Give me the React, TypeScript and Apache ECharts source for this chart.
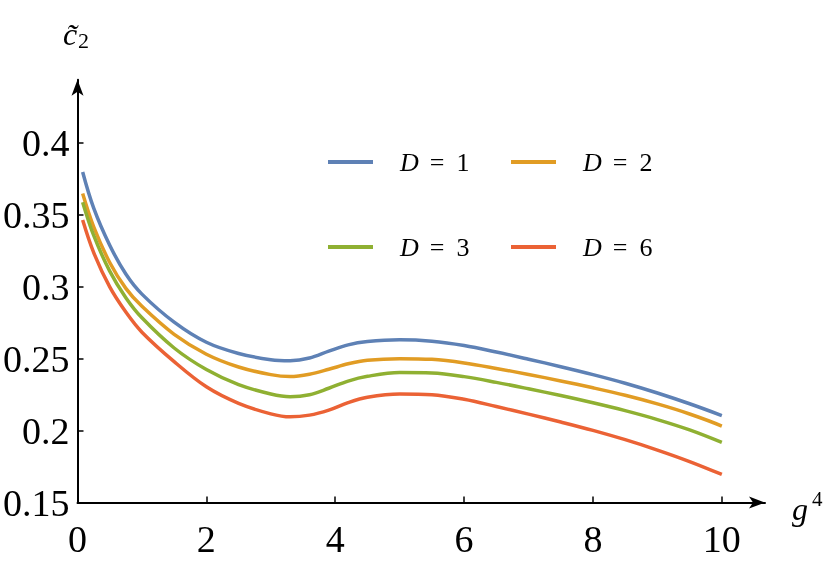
import React, { useEffect, useRef } from 'react';
import * as echarts from 'echarts';

// g^4 sample positions
const gValues = [0.08, 0.25, 0.5, 0.75, 1.0, 1.5, 2.0, 2.5, 3.0, 3.3, 3.6, 3.9, 4.2, 4.5, 5.0, 5.5, 6.0, 6.5, 7.0, 7.5, 8.0, 8.5, 9.0, 9.5, 10.0];
const cD1 = [0.380, 0.355, 0.329, 0.309, 0.295, 0.2755, 0.2615, 0.2537, 0.2494, 0.2487, 0.2505, 0.2553, 0.2597, 0.2620, 0.2632, 0.2622, 0.2592, 0.2547, 0.2497, 0.2445, 0.2390, 0.2330, 0.2262, 0.2187, 0.2105];
const cD2 = [0.365, 0.342, 0.317, 0.299, 0.2865, 0.2670, 0.2532, 0.2443, 0.2390, 0.2377, 0.2393, 0.2427, 0.2465, 0.2490, 0.2501, 0.2496, 0.2471, 0.2433, 0.2391, 0.2346, 0.2298, 0.2246, 0.2186, 0.2116, 0.2032];
const cD3 = [0.359, 0.336, 0.311, 0.2925, 0.2785, 0.2575, 0.2425, 0.2320, 0.2255, 0.2236, 0.2250, 0.2295, 0.2345, 0.2378, 0.2404, 0.2401, 0.2376, 0.2336, 0.2291, 0.2244, 0.2194, 0.2139, 0.2077, 0.2005, 0.1918];
const cD6 = [0.3465, 0.324, 0.300, 0.2825, 0.2685, 0.2480, 0.2305, 0.2190, 0.2117, 0.2096, 0.2108, 0.2143, 0.2195, 0.2232, 0.2255, 0.2250, 0.2218, 0.2168, 0.2115, 0.2060, 0.2002, 0.1937, 0.1865, 0.1785, 0.1695];

const seriesNames = ['D = 1', 'D = 2', 'D = 3', 'D = 6'];
const seriesValues = [cD1, cD2, cD3, cD6];
const seriesColors = ['#5E81B5', '#E19C24', '#8FB032', '#EB6235'];

const xTicks = [0, 2, 4, 6, 8, 10];
const yTicks = [0.15, 0.2, 0.25, 0.3, 0.35, 0.4];

const FONT = '"Liberation Serif", "Times New Roman", serif';

const legendLeft = [328, 511, 328, 511];
const legendTop = [149, 149, 234, 234];

export default function App() {
  const ref = useRef<HTMLDivElement>(null);
  useEffect(() => {
    if (!ref.current) return;
    const chart = echarts.init(ref.current, undefined, { renderer: 'svg' });
    const axisLine = {
      show: true,
      onZero: false,
      symbol: ['none', 'arrow'],
      symbolSize: [9, 16],
      lineStyle: { color: '#000', width: 2 },
    };
    const axisTick = { show: true, inside: true, length: 6, lineStyle: { color: '#000', width: 1.5 } };
    const labelStyle = { fontSize: 38, fontFamily: FONT, color: '#000' };
    chart.setOption({
      animation: false,
      grid: { left: 76.7, right: 65, top: 79.7, bottom: 67.5, containLabel: false },
      xAxis: {
        type: 'value',
        min: 0,
        max: 10.67,
        axisLine,
        axisTick: { ...axisTick, customValues: xTicks },
        axisLabel: { ...labelStyle, customValues: xTicks, margin: 17 },
        splitLine: { show: false },
      },
      yAxis: {
        type: 'value',
        min: 0.15,
        max: 0.4442,
        axisLine,
        axisTick: { ...axisTick, customValues: yTicks },
        axisLabel: { ...labelStyle, customValues: yTicks, margin: 8 },
        splitLine: { show: false },
      },
      legend: seriesNames.map((name, i) => ({
        data: [name],
        left: legendLeft[i],
        top: legendTop[i],
        padding: 0,
        icon: 'rect',
        itemWidth: 45,
        itemHeight: 4,
        selectedMode: false,
        formatter: (n: string) => {
          const parts = n.split(' = ');
          return `{i|${parts[0]}}{o|=}{n|${parts[1]}}`;
        },
        textStyle: {
          color: '#000',
          fontFamily: FONT,
          fontSize: 26,
          rich: {
            i: { fontStyle: 'italic', fontFamily: FONT, fontSize: 26, color: '#000', padding: [0, 0, 0, 22] },
            o: { fontFamily: FONT, fontSize: 26, color: '#000', padding: [0, 12, 0, 11] },
            n: { fontFamily: FONT, fontSize: 26, color: '#000' },
          },
        },
      })),
      graphic: [
        { type: 'text', x: 70, y: 34, style: { text: 'c\u0303', fontFamily: FONT, fontStyle: 'italic', fontSize: 32, fill: '#000', align: 'center', verticalAlign: 'middle' } },
        { type: 'text', x: 78, y: 40.5, style: { text: '2', fontFamily: FONT, fontSize: 22, fill: '#000', align: 'left', verticalAlign: 'middle' } },
        { type: 'text', x: 792, y: 509, style: { text: 'g', fontFamily: FONT, fontStyle: 'italic', fontSize: 32, fill: '#000', align: 'left', verticalAlign: 'middle' } },
        { type: 'text', x: 812, y: 499, style: { text: '4', fontFamily: FONT, fontSize: 21, fill: '#000', align: 'left', verticalAlign: 'middle' } },
      ],
      series: seriesNames.map((name, i) => ({
        name,
        type: 'line',
        smooth: 0.35,
        symbol: 'none',
        lineStyle: { color: seriesColors[i], width: 3.5 },
        itemStyle: { color: seriesColors[i] },
        data: gValues.map((g, k) => [g, seriesValues[i][k]]),
      })),
    });
    return () => chart.dispose();
  }, []);
  return <div ref={ref} style={{ position: 'fixed', left: 0, top: 0, width: 830, height: 570 }} />;
}
